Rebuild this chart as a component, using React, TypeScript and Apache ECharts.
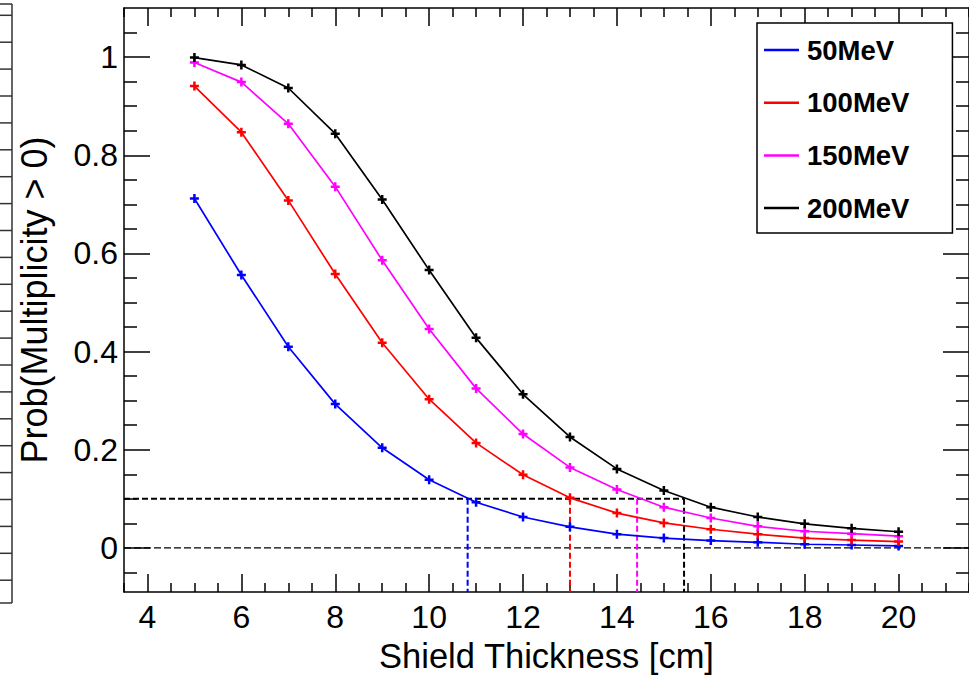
import React, { useEffect, useRef } from "react";
import * as echarts from "echarts";

const thickness = [5, 6, 7, 8, 9, 10, 11, 12, 13, 14, 15, 16, 17, 18, 19, 20];
const seriesNames = ["50MeV", "100MeV", "150MeV", "200MeV"];
const seriesColors = ["#0000ff", "#ff0000", "#ff00ff", "#000000"];
const prob50 = [0.712, 0.556, 0.41, 0.293, 0.204, 0.139, 0.093, 0.063, 0.043, 0.028, 0.02, 0.015, 0.0115, 0.0075, 0.006, 0.004];
const prob100 = [0.941, 0.847, 0.708, 0.558, 0.418, 0.303, 0.214, 0.149, 0.102, 0.071, 0.051, 0.038, 0.028, 0.02, 0.016, 0.013];
const prob150 = [0.989, 0.949, 0.864, 0.736, 0.586, 0.446, 0.325, 0.232, 0.164, 0.119, 0.083, 0.061, 0.044, 0.034, 0.029, 0.024];
const prob200 = [0.999, 0.984, 0.937, 0.844, 0.71, 0.566, 0.428, 0.313, 0.226, 0.161, 0.117, 0.083, 0.063, 0.049, 0.04, 0.033];
const threshold = 0.1;
const crossX = [10.82, 13.0, 14.43, 15.43];

const xMin = 3.5;
const xMax = 21.5;
const yMin = -0.09;
const yMax = 1.1;
const xMajor = [4, 6, 8, 10, 12, 14, 16, 18, 20];
const xMinor = [3.5, 4.5, 5, 5.5, 6.5, 7, 7.5, 8.5, 9, 9.5, 10.5, 11, 11.5, 12.5, 13, 13.5, 14.5, 15, 15.5, 16.5, 17, 17.5, 18.5, 19, 19.5, 20.5, 21, 21.5];
const yMajor = [0, 0.2, 0.4, 0.6, 0.8, 1];
const yMinor = [-0.05, 0.05, 0.1, 0.15, 0.25, 0.3, 0.35, 0.45, 0.5, 0.55, 0.65, 0.7, 0.75, 0.85, 0.9, 0.95, 1.05];

const FONT = "'Liberation Sans', Arial, Helvetica, sans-serif";
const PLUS = "path://M3.25,0H5.75V3.25H9V5.75H5.75V9H3.25V5.75H0V3.25H3.25Z";

export default function App() {
  const ref = useRef<HTMLDivElement>(null);
  useEffect(() => {
    if (!ref.current) return;
    const chart = echarts.init(ref.current, null, { renderer: "svg" });
    const allData = [prob50, prob100, prob150, prob200];

    const lineOn = { show: true, onZero: false, lineStyle: { color: "#000", width: 1.5 } };
    const lineOff = { show: false, onZero: false };
    const mkX = (pos: string, vals: number[], len: number, labels: boolean, line: boolean, extra: any = {}) => ({
      type: "value",
      position: pos,
      gridIndex: 0,
      min: xMin,
      max: xMax,
      axisLine: line ? lineOn : lineOff,
      axisTick: { show: true, inside: true, length: len, customValues: vals, lineStyle: { color: "#000", width: 1.5 } },
      axisLabel: labels
        ? { show: true, customValues: vals, color: "#000", fontSize: 32, fontFamily: FONT, margin: 9 }
        : { show: false },
      splitLine: { show: false },
      ...extra,
    });
    const mkY = (pos: string, vals: number[], len: number, labels: boolean, line: boolean, extra: any = {}) => ({
      type: "value",
      position: pos,
      gridIndex: 0,
      min: yMin,
      max: yMax,
      axisLine: line ? lineOn : lineOff,
      axisTick: { show: true, inside: true, length: len, customValues: vals, lineStyle: { color: "#000", width: 1.5 } },
      axisLabel: labels
        ? { show: true, customValues: vals, color: "#000", fontSize: 32, fontFamily: FONT, margin: 6 }
        : { show: false },
      splitLine: { show: false },
      ...extra,
    });

    const refSeries: any[] = [];
    refSeries.push({
      type: "line",
      data: [[xMin, 0], [xMax, 0]],
      symbol: "none",
      silent: true,
      lineStyle: { color: "#000", width: 1.2, type: [7, 3] },
      z: 1,
    });
    refSeries.push({
      type: "line",
      data: [[xMin, threshold], [crossX[crossX.length - 1], threshold]],
      symbol: "none",
      silent: true,
      lineStyle: { color: "#000", width: 2, type: [6, 3] },
      z: 1,
    });
    crossX.forEach((cx, i) => {
      refSeries.push({
        type: "line",
        data: [[cx, threshold], [cx, yMin]],
        symbol: "none",
        silent: true,
        lineStyle: { color: seriesColors[i], width: 2, type: [6, 3] },
        z: 1,
      });
    });

    const dataSeries = seriesNames.map((name, i) => ({
      type: "line",
      name,
      data: thickness.map((t, j) => [t, allData[i][j]]),
      symbol: PLUS,
      symbolSize: 9,
      showAllSymbol: true,
      color: seriesColors[i],
      itemStyle: { color: seriesColors[i] },
      lineStyle: { color: seriesColors[i], width: 1.7 },
      z: 3,
    }));

    const leftPad: any[] = [];
    leftPad.push({ type: "line", shape: { x1: 12, y1: 4, x2: 12, y2: 603 }, style: { stroke: "#333", lineWidth: 1.5 } });
    leftPad.push({ type: "line", shape: { x1: 0, y1: 4, x2: 12, y2: 4 }, style: { stroke: "#333", lineWidth: 1.5 } });
    leftPad.push({ type: "line", shape: { x1: 0, y1: 603, x2: 12, y2: 603 }, style: { stroke: "#333", lineWidth: 1.5 } });
    for (let i = 0; i < 22; i++) {
      const y = 15.3 + i * 26.9;
      leftPad.push({ type: "line", shape: { x1: 0, y1: y, x2: 12, y2: y }, style: { stroke: "#333", lineWidth: 1.5 } });
    }

    chart.setOption({
      animation: false,
      backgroundColor: "#fff",
      grid: { left: 124, top: 8, width: 854, height: 589, containLabel: false },
      xAxis: [
        mkX("bottom", xMajor, 18, true, true, {
          name: "Shield Thickness [cm]",
          nameLocation: "middle",
          nameGap: 40,
          nameTextStyle: { color: "#000", fontSize: 34.5, fontFamily: FONT },
        }),
        mkX("bottom", xMinor, 9, false, false),
        mkX("top", xMajor, 18, false, true),
        mkX("top", xMinor, 9, false, false),
      ],
      yAxis: [
        mkY("left", yMajor, 26, true, true, {
          name: "Prob(Multiplicity > 0)",
          nameLocation: "middle",
          nameGap: 72,
          nameTextStyle: { color: "#000", fontSize: 36, fontFamily: FONT },
        }),
        mkY("left", yMinor, 13, false, false),
        mkY("right", yMajor, 26, false, true),
        mkY("right", yMinor, 13, false, false),
      ],
      legend: {
        data: seriesNames,
        orient: "vertical",
        left: 757,
        top: 23,
        padding: [13, 43, 11, 7],
        itemGap: 24.7,
        itemWidth: 35,
        itemHeight: 2.5,
        icon: "rect",
        backgroundColor: "#fff",
        borderColor: "#000",
        borderWidth: 1.5,
        borderRadius: 0,
        itemStyle: { borderWidth: 0 },
        textStyle: { color: "#000", fontSize: 27.5, fontWeight: "bold", fontFamily: FONT, lineHeight: 28, padding: [0, 0, 0, 3] },
        z: 10,
      },
      graphic: leftPad,
      series: [...refSeries, ...dataSeries],
    });
    return () => chart.dispose();
  }, []);
  return (
    <div
      ref={ref}
      style={{ position: "fixed", left: 0, top: 0, width: 969, height: 678, background: "#fff" }}
    />
  );
}
